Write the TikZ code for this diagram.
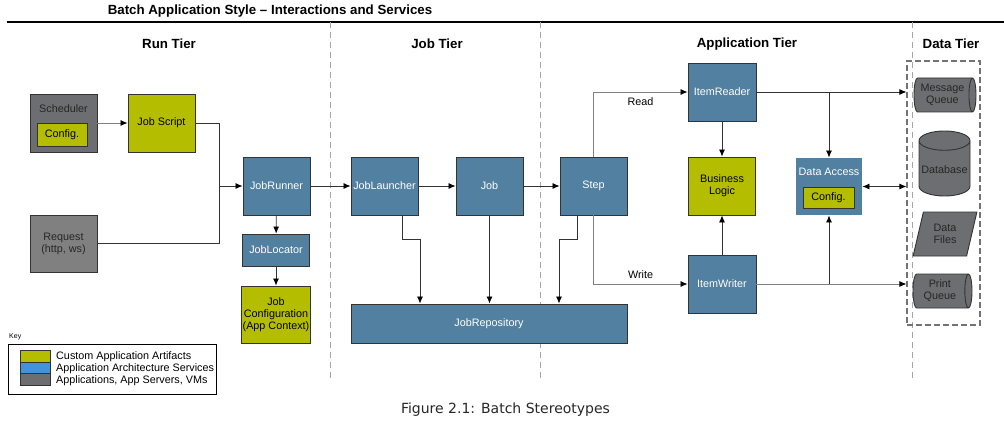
\documentclass[tikz,border=0pt]{standalone}
\usepackage{fontspec}
\setmainfont{Liberation Sans}
\newfontfamily\capfont{DejaVu Sans}
\usetikzlibrary{shapes.geometric,arrows.meta}
\definecolor{appblue}{RGB}{82,128,160}
\definecolor{custom}{RGB}{181,189,0}
\definecolor{vmgray}{RGB}{109,110,113}
\definecolor{reqgray}{RGB}{128,128,128}
\definecolor{edgegray}{RGB}{51,51,51}
\definecolor{keyblue}{RGB}{66,146,220}
\begin{document}
\begin{tikzpicture}[x=1pt, y=-1pt, font=\fontsize{10.8}{12}\selectfont,
  box/.style={shape=rectangle, draw=edgegray, line width=0.9pt, minimum width=67pt, minimum height=58pt, inner sep=1pt, align=center},
  svc/.style={box, fill=appblue, text=white},
  art/.style={box, fill=custom, text=black},
  sys/.style={box, fill=vmgray, text=black!85},
  cyl/.style={shape=cylinder, draw=edgegray, fill=vmgray, line width=0.9pt, aspect=0.3, inner sep=1pt, align=center, text=black!85, anchor=shape center},
  arr/.style={-{Latex[length=7pt,width=6pt,color=black]}, line width=0.8pt, draw=edgegray},
  dbl/.style={arr, {Latex[length=7pt,width=6pt,color=black]}-{Latex[length=7pt,width=6pt,color=black]}},
  tier/.style={font=\fontsize{13.3}{15}\selectfont\bfseries},
  sep/.style={draw=gray!70, dash pattern=on 6pt off 4pt, line width=0.8pt}]
\useasboundingbox (0,0) rectangle (1004,425);
% header and tiers
\node[tier] (title) at (270,11) {Batch Application Style -- Interactions and Services};
\draw[line width=1.5pt] (7,22) -- (1004,22);
\draw[sep] (330,22) -- (330,378);
\draw[sep] (540,22) -- (540,378);
\draw[sep] (912,22) -- (912,378);
\node[tier] (runtier) at (169,44) {Run Tier};
\node[tier] (jobtier) at (437,44) {Job Tier};
\node[tier] (apptier) at (747,44) {Application Tier};
\node[tier] (datatier) at (951,44) {Data Tier};
% run tier
\node[sys] (sched) at (63.5,123) {};
\node[text=black!85] (schedtxt) at (63.5,109) {Scheduler};
\node[art, minimum width=50pt, minimum height=23pt] (schedcfg) at (62,134.5) {Config.};
\node[art] (script) at (161.5,123) {Job Script};
\node[sys, fill=reqgray, minimum height=57pt] (request) at (63.5,243.5) {Request\\(http, ws)};
\node[svc] (runner) at (276.5,186) {JobRunner};
\node[svc, minimum height=32pt] (locator) at (276,250) {JobLocator};
\node[art, minimum height=57pt] (jobcfg) at (276,314.5) {Job\\Configuration\\(App Context)};
% job tier
\node[svc] (launcher) at (384.5,186) {JobLauncher};
\node[svc] (job) at (489.5,186) {Job};
\node[svc] (step) at (593.5,186) {Step};
\node[svc, minimum width=276pt, minimum height=39pt] (repo) at (489,323.5) {JobRepository};
% application tier
\node[svc, minimum width=68pt] (reader) at (722,92) {ItemReader};
\node[art] (logic) at (722,186) {Business\\Logic};
\node[svc, minimum width=68pt] (writer) at (722,284) {ItemWriter};
\node[svc, draw=none, minimum width=66pt, minimum height=57pt] (access) at (829,186.5) {};
\node[text=white] (accesstxt) at (829,172) {Data Access};
\node[art, minimum width=51pt, minimum height=21pt] (accesscfg) at (828.5,197.5) {Config.};
% data tier
\node[draw=gray!90!black, dash pattern=on 6pt off 3pt, line width=1.2pt, minimum width=73pt, minimum height=264pt] (dtier) at (943.5,193) {};
\node[cyl, minimum width=34pt, minimum height=62pt] (mq) at (945,95) {Message\\Queue};
\node[cyl, shape border rotate=90, minimum width=51pt, minimum height=65pt, aspect=0.4] (db) at (944.5,163.5) {Database};
\node[shape=trapezium, trapezium left angle=75, trapezium right angle=105, trapezium stretches=true, draw=edgegray, fill=vmgray, line width=0.9pt, minimum width=64pt, minimum height=44pt, align=center, text=black!85] (files) at (945,234) {Data\\Files};
\node[cyl, minimum width=34pt, minimum height=59pt] (pq) at (942.5,291) {Print\\Queue};
% connectors
\coordinate (join) at (219,186);
\draw[arr, draw=gray] (sched) -- (script);
\draw[line width=0.8pt, draw=edgegray] (script.east) -| (join);
\draw[line width=0.8pt, draw=edgegray] (request.east) -| (join);
\draw[arr] (join) -- (runner.west);
\path[arr] (runner) edge (locator);
\path[arr] (locator) edge (jobcfg);
\path[arr] (runner) edge (launcher);
\path[arr] (launcher) edge (job);
\path[arr] (job) edge (step);
\draw[arr] ([xshift=17.5pt]launcher.south) -- ++(0,24) -| ([xshift=-69pt]repo.north);
\draw[arr] (job.south) -- (job.south |- repo.north);
\draw[arr] ([xshift=-16.5pt]step.south) -- ++(0,24) -| ([xshift=70pt]repo.north);
\draw[arr, draw=gray] (step.north) |- node[pos=0.75, below=2pt, text=black] {Read} (reader.west);
\draw[arr, draw=gray] (step.south) |- node[pos=0.75, above=2pt, text=black] {Write} (writer.west);
\path[arr] (reader) edge (logic);
\path[arr] (writer) edge (logic);
\draw[arr] (reader.east) -- (reader.east -| dtier.west);
\draw[arr] (reader.east -| access.north) -- (access.north);
\draw[arr, draw=gray] (writer.east) -- (writer.east -| dtier.west);
\draw[arr] (writer.east -| access.south) -- (access.south);
\draw[dbl] (access.east) -- (access.east -| dtier.west);
% key
\node[anchor=west, inner sep=0pt, font=\fontsize{7}{8}\selectfont] (keytxt) at (9,337) {Key};
\node[draw=black, line width=0.8pt, minimum width=208pt, minimum height=50pt] (keybox) at (112,369) {};
\node[draw=edgegray, fill=custom, minimum width=30pt, minimum height=12pt, inner sep=0pt] (k1) at (35,356) {};
\node[draw=edgegray, fill=keyblue, minimum width=30pt, minimum height=11pt, inner sep=0pt] (k2) at (35,367.5) {};
\node[draw=edgegray, fill=vmgray, minimum width=30pt, minimum height=12pt, inner sep=0pt] (k3) at (35,379) {};
\node[anchor=west, inner sep=0pt] (k1txt) at (56,356.5) {Custom Application Artifacts};
\node[anchor=west, inner sep=0pt] (k2txt) at (56,368.5) {Application Architecture Services};
\node[anchor=west, inner sep=0pt] (k3txt) at (56,380.5) {Applications, App Servers, VMs};
% caption
\node[font=\capfont\fontsize{14}{16}\selectfont, text=black!85] (caption) at (505.5,410) {Figure 2.1: Batch Stereotypes};
\end{tikzpicture}
\end{document}
